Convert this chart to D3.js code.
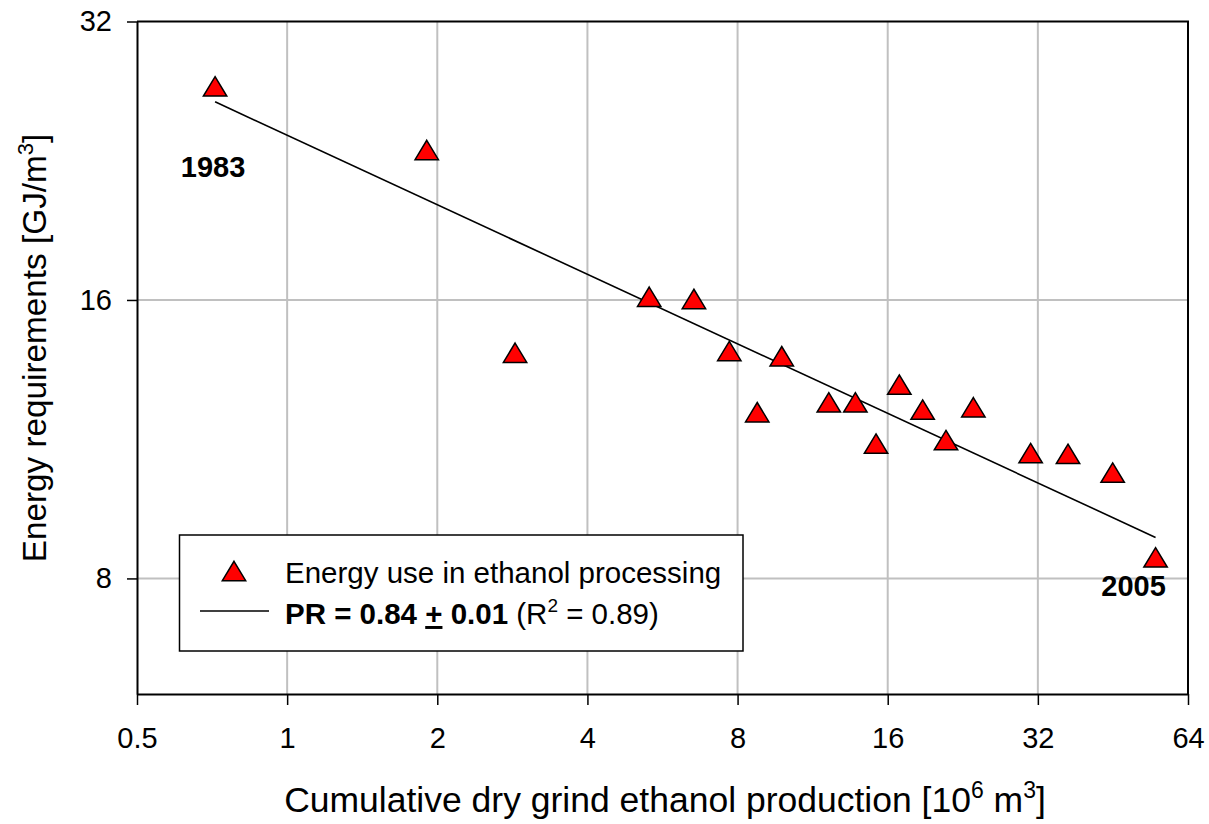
<html>
<head>
<meta charset="utf-8">
<title>Energy requirements vs cumulative dry grind ethanol production</title>
<style>
  body{margin:0;background:#fff;}
  text{font-family:"Liberation Sans",Arial,sans-serif;}
</style>
</head>
<body>
<script src="https://d3js.org/d3.v7.min.js"></script>
<script>
var width=1209, height=824;
var plotLeft=137, plotRight=1188, plotTop=21.5, plotBottom=694;

// data
var production=[0.717,1.905,2.864,5.32,6.54,7.70,8.76,9.81,12.19,13.78,15.16,16.88,18.8,20.94,23.76,30.95,36.78,45.2,55.1];
var energy=[27.23,23.24,14.03,16.13,16.04,14.09,12.10,13.91,12.40,12.40,11.19,12.96,12.18,11.29,12.25,10.93,10.91,10.41,8.43];
var trendX=[0.717,55.1];
var trendY=[26.2,8.86];
var xTicks=[0.5,1,2,4,8,16,32,64];
var yTicks=[8,16,32];
var firstYear="1983", lastYear="2005";

var svg=d3.select("body").append("svg")
  .attr("width",width).attr("height",height);

var x=d3.scaleLog().base(2).domain([0.5,64]).range([plotLeft,plotRight]);
var y=d3.scaleLog().base(2).domain([6,32]).range([plotBottom,plotTop]);

// grid
svg.append("g").selectAll("line")
  .data(xTicks.slice(1,-1)).enter().append("line")
  .attr("x1",d=>x(d)).attr("x2",d=>x(d))
  .attr("y1",plotTop).attr("y2",plotBottom)
  .attr("stroke","#c0c0c0").attr("stroke-width",2);
svg.append("g").selectAll("line")
  .data(yTicks.slice(0,-1)).enter().append("line")
  .attr("x1",plotLeft).attr("x2",plotRight)
  .attr("y1",d=>y(d)).attr("y2",d=>y(d))
  .attr("stroke","#c0c0c0").attr("stroke-width",2);

// frame top/right
svg.append("path")
  .attr("d","M"+plotLeft+","+plotTop+"H"+plotRight+"V"+plotBottom)
  .attr("fill","none").attr("stroke","#000").attr("stroke-width",2);

// axes
var fmt=d=>d+"";
var gx=svg.append("g").attr("transform","translate(0,"+plotBottom+")")
  .call(d3.axisBottom(x).tickValues(xTicks).tickFormat(fmt).tickSize(11).tickSizeOuter(0).tickPadding(22));
var gy=svg.append("g").attr("transform","translate("+plotLeft+",0)")
  .call(d3.axisLeft(y).tickValues(yTicks).tickFormat(fmt).tickSize(10).tickSizeOuter(0).tickPadding(15));
[gx,gy].forEach(function(g){
  g.select(".domain").attr("stroke","#000").attr("stroke-width",2);
  g.selectAll(".tick line").attr("stroke","#000").attr("stroke-width",1.5);
  g.selectAll(".tick text").attr("fill","#000")
    .style("font-family",'"Liberation Sans",Arial,sans-serif').style("font-size","29px");
});

// trend line
var line=d3.line().x(d=>x(d[0])).y(d=>y(d[1]));
svg.append("path")
  .datum(d3.zip(trendX,trendY))
  .attr("d",line)
  .attr("fill","none").attr("stroke","#000").attr("stroke-width",1.6);

// triangles
var tri="M0,-9.7L11.7,9.7L-11.7,9.7Z";
svg.append("g").selectAll("path")
  .data(d3.zip(production,energy)).enter().append("path")
  .attr("d",tri)
  .attr("transform",d=>"translate("+x(d[0])+","+y(d[1])+")")
  .attr("fill","#ff0000").attr("stroke","#000").attr("stroke-width",1.5);

// year labels
var n=production.length;
svg.append("text")
  .attr("x",x(production[0])-2).attr("y",y(energy[0])+91)
  .attr("text-anchor","middle").attr("font-weight","bold").attr("font-size",29)
  .text(firstYear);
svg.append("text")
  .attr("x",x(production[n-1])-22).attr("y",y(energy[n-1])+39)
  .attr("text-anchor","middle").attr("font-weight","bold").attr("font-size",29)
  .text(lastYear);

// legend
var lg=svg.append("g");
lg.append("rect")
  .attr("x",179.5).attr("y",535).attr("width",563.5).attr("height",116)
  .attr("fill","#fff").attr("stroke","#000").attr("stroke-width",1.5);
lg.append("path").attr("d",tri)
  .attr("transform","translate(234,571)")
  .attr("fill","#ff0000").attr("stroke","#000").attr("stroke-width",1.5);
lg.append("text").attr("x",285).attr("y",583).attr("font-size",29.5)
  .text("Energy use in ethanol processing");
lg.append("line").attr("x1",200).attr("x2",269).attr("y1",611).attr("y2",611)
  .attr("stroke","#000").attr("stroke-width",1.6);
var t2=lg.append("text").attr("x",285).attr("y",624).attr("font-size",29.5);
t2.append("tspan").attr("font-weight","bold").text("PR = 0.84 ");
t2.append("tspan").attr("font-weight","bold").attr("text-decoration","underline").text("+");
t2.append("tspan").attr("font-weight","bold").text(" 0.01");
t2.append("tspan").text(" (R");
t2.append("tspan").attr("font-size",19).attr("dy",-12).text("2");
t2.append("tspan").attr("dy",12).text(" = 0.89)");

// axis titles
var xt=svg.append("text").attr("x",665).attr("y",812)
  .attr("text-anchor","middle").attr("font-size",35.5);
xt.append("tspan").text("Cumulative dry grind ethanol production [10");
xt.append("tspan").attr("font-size",23).attr("dy",-14).text("6");
xt.append("tspan").attr("dy",14).text(" m");
xt.append("tspan").attr("font-size",23).attr("dy",-14).text("3");
xt.append("tspan").attr("dy",14).text("]");

var yt=svg.append("text").attr("transform","translate(46,348) rotate(-90)")
  .attr("text-anchor","middle").attr("font-size",33.3);
yt.append("tspan").text("Energy requirements [GJ/m");
yt.append("tspan").attr("font-size",22).attr("dy",-13).text("3");
yt.append("tspan").attr("dy",13).text("]");
</script>
</body>
</html>
